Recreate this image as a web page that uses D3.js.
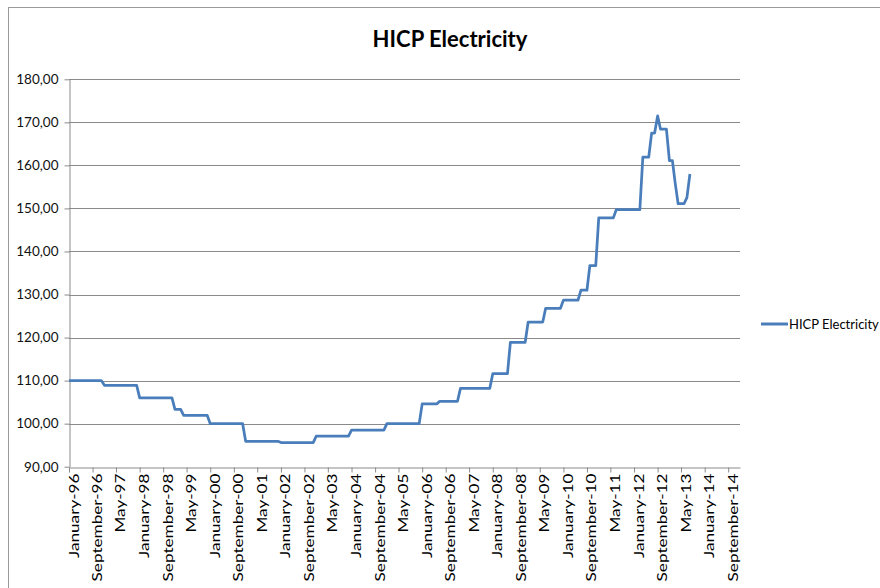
<!DOCTYPE html>
<html>
<head>
<script src="https://d3js.org/d3.v7.min.js"></script>
<style>
  body { margin: 0; background: #fff; font-family: Lato, "Open Sans", Arial; }
</style>
</head>
<body>
<svg id="chart" width="880" height="588"></svg>
<script>
// monthly index, January 1996 onwards (one row per year)
var firstMonth = "1996-01";
var axisEnd = "2015-01";
var hicp = [
  110.0, 110.0, 110.0, 110.0, 110.0, 110.0, 110.0, 110.0, 110.0, 110.0, 110.0, 110.0,
  108.9, 108.9, 108.9, 108.9, 108.9, 108.9, 108.9, 108.9, 108.9, 108.9, 108.9, 108.9,
  106.0, 106.0, 106.0, 106.0, 106.0, 106.0, 106.0, 106.0, 106.0, 106.0, 106.0, 106.0,
  103.3, 103.3, 103.3, 101.9, 101.9, 101.9, 101.9, 101.9, 101.9, 101.9, 101.9, 101.9,
  100.0, 100.0, 100.0, 100.0, 100.0, 100.0, 100.0, 100.0, 100.0, 100.0, 100.0, 100.0,
  95.9, 95.9, 95.9, 95.9, 95.9, 95.9, 95.9, 95.9, 95.9, 95.9, 95.9, 95.9,
  95.6, 95.6, 95.6, 95.6, 95.6, 95.6, 95.6, 95.6, 95.6, 95.6, 95.6, 95.6,
  97.1, 97.1, 97.1, 97.1, 97.1, 97.1, 97.1, 97.1, 97.1, 97.1, 97.1, 97.1,
  98.5, 98.5, 98.5, 98.5, 98.5, 98.5, 98.5, 98.5, 98.5, 98.5, 98.5, 98.5,
  100.0, 100.0, 100.0, 100.0, 100.0, 100.0, 100.0, 100.0, 100.0, 100.0, 100.0, 100.0,
  104.6, 104.6, 104.6, 104.6, 104.6, 104.6, 105.2, 105.2, 105.2, 105.2, 105.2, 105.2,
  105.2, 108.2, 108.2, 108.2, 108.2, 108.2, 108.2, 108.2, 108.2, 108.2, 108.2, 108.2,
  111.6, 111.6, 111.6, 111.6, 111.6, 111.6, 118.9, 118.9, 118.9, 118.9, 118.9, 118.9,
  123.6, 123.6, 123.6, 123.6, 123.6, 123.6, 126.8, 126.8, 126.8, 126.8, 126.8, 126.8,
  128.7, 128.7, 128.7, 128.7, 128.7, 128.7, 131.0, 131.0, 131.0, 136.7, 136.7, 136.7,
  147.8, 147.8, 147.8, 147.8, 147.8, 147.8, 149.7, 149.7, 149.7, 149.7, 149.7, 149.7,
  149.7, 149.7, 149.7, 161.9, 161.9, 161.9, 167.5, 167.5, 171.5, 168.4, 168.4, 168.4,
  161.1, 161.1, 156.0, 151.1, 151.1, 151.1, 152.5, 158.0
];
var yTicks = [90, 100, 110, 120, 130, 140, 150, 160, 170, 180];
var xTickLabels = ["January-96", "September-96", "May-97", "January-98", "September-98", "May-99",
  "January-00", "September-00", "May-01", "January-02", "September-02", "May-03",
  "January-04", "September-04", "May-05", "January-06", "September-06", "May-07",
  "January-08", "September-08", "May-09", "January-10", "September-10", "May-11",
  "January-12", "September-12", "May-13", "January-14", "September-14"];
var seriesName = "HICP Electricity";

var svg = d3.select("#chart");
var monthParse = d3.timeParse("%Y-%m");
var labelParse = d3.timeParse("%B-%y");
var start = monthParse(firstMonth);
var data = hicp.map(function (v, i) { return { date: d3.timeMonth.offset(start, i), value: v }; });
var tickDates = xTickLabels.map(function (s) { return labelParse(s); });

var x = d3.scaleTime().domain([start, monthParse(axisEnd)]).range([69, 740]);
var y = d3.scaleLinear().domain([90, 180]).range([466.7, 79.3]);
var comma = d3.formatLocale({ decimal: ",", thousands: ".", grouping: [3], currency: ["", ""] }).format(".2f");

// outer frame
svg.append("rect")
  .attr("x", 8.5).attr("y", 7.5)
  .attr("width", 900).attr("height", 600)
  .attr("fill", "#fff").attr("stroke", "#9a9a9a");

// title
svg.append("text")
  .text(seriesName)
  .attr("x", 450).attr("y", 47)
  .attr("text-anchor", "middle")
  .attr("font-size", 22).attr("font-weight", "bold")
  .attr("fill", "#000");

// grid lines
svg.append("g")
  .selectAll("line")
  .data(yTicks.slice(1))
  .enter().append("line")
  .attr("x1", 69).attr("x2", 740)
  .attr("y1", function (d) { return Math.round(y(d)) + 0.5; })
  .attr("y2", function (d) { return Math.round(y(d)) + 0.5; })
  .attr("stroke", "#8a8a8a").attr("stroke-width", 1);

// y axis
var yAxis = svg.append("g")
  .attr("transform", "translate(69.5,0)")
  .call(d3.axisLeft(y).tickValues(yTicks).tickFormat(comma).tickSize(5).tickSizeOuter(0));
yAxis.select(".domain").attr("stroke", "#8a8a8a");
yAxis.selectAll(".tick line").attr("stroke", "#8a8a8a");
yAxis.selectAll(".tick text")
  .attr("x", -11)
  .attr("font-family", "Lato")
  .attr("font-size", 13.5)
  .attr("fill", "#111");

// x axis
var xAxis = svg.append("g")
  .attr("transform", "translate(0," + (Math.round(y(90)) + 0.5) + ")")
  .call(d3.axisBottom(x).tickValues(tickDates)
    .tickFormat(function (d, i) { return xTickLabels[i]; })
    .tickSize(5).tickSizeOuter(0));
xAxis.select(".domain").attr("stroke", "#8a8a8a");
xAxis.selectAll(".tick line").attr("stroke", "#8a8a8a");
xAxis.selectAll(".tick text")
  .attr("y", 0).attr("dy", 0)
  .attr("text-anchor", "end")
  .attr("transform", "translate(9,6) rotate(-90) scale(1.32,1)")
  .attr("font-family", "Lato")
  .attr("font-size", 13)
  .attr("fill", "#000");

// series line
var line = d3.line()
  .x(function (d) { return x(d.date); })
  .y(function (d) { return y(d.value); });
svg.append("path")
  .datum(data)
  .attr("d", line)
  .attr("fill", "none")
  .attr("stroke", "#4a7ebb")
  .attr("stroke-width", 2.75)
  .attr("stroke-linejoin", "round");

// legend
var legend = svg.append("g").attr("transform", "translate(761,324)");
legend.append("line")
  .attr("x1", 0).attr("x2", 27).attr("y1", 0).attr("y2", 0)
  .attr("stroke", "#4a7ebb").attr("stroke-width", 3);
legend.append("text")
  .text(seriesName)
  .attr("x", 28).attr("y", 4.5)
  .attr("font-family", "Lato")
  .attr("font-size", 13)
  .attr("fill", "#000");
</script>
</body>
</html>
